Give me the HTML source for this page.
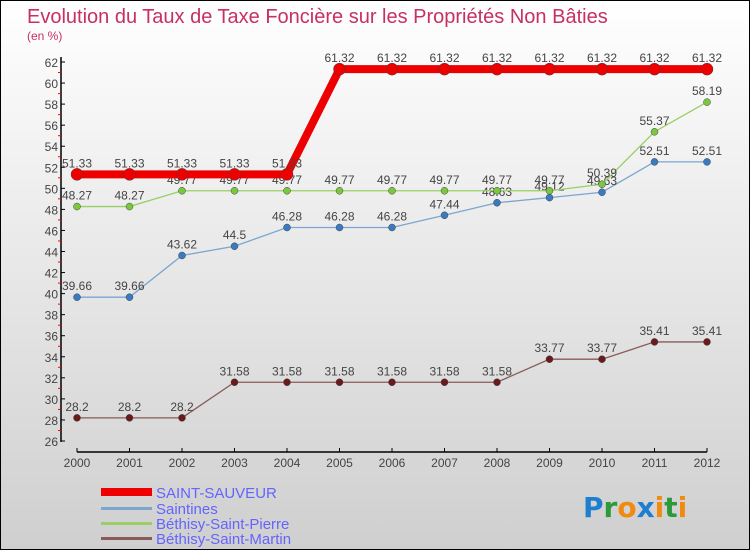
<!DOCTYPE html>
<html><head><meta charset="utf-8"><style>
body{margin:0}
#c{width:748px;height:548px;border:1px solid #000;background:linear-gradient(#fff,#cfcfcf);position:relative;font-family:"Liberation Sans",sans-serif}
</style></head><body>
<div id="c">
<svg id="s" width="748" height="548" style="position:absolute;left:0;top:0">
<text x="26" y="22" font-size="20" fill="#c8305f">Evolution du Taux de Taxe Foncière sur les Propriétés Non Bâties</text>
<text x="26" y="39" font-size="12" fill="#c8305f">(en %)</text>
<g id="ax"></g><g id="ser"></g>
<g font-size="15" fill="#6464ff">
<rect x="100" y="487" width="51" height="8" fill="#e00"/>
<text x="155" y="497">SAINT-SAUVEUR</text>
<rect x="100" y="506" width="51" height="3" fill="#7aa6cf"/>
<text x="155" y="513">Saintines</text>
<rect x="100" y="521" width="51" height="3" fill="#99d066"/>
<text x="155" y="528">Béthisy-Saint-Pierre</text>
<rect x="100" y="536" width="51" height="3" fill="#8a5a5a"/>
<text x="155" y="543">Béthisy-Saint-Martin</text>
</g>
<g font-size="28" font-weight="bold" font-family="'DejaVu Sans',sans-serif">
<text x="582" y="516"><tspan fill="#1e7fd0">P</tspan><tspan fill="#2a9a3a">r</tspan><tspan fill="#f08a10">o</tspan><tspan fill="#1e7fd0">x</tspan><tspan fill="#f08a10">i</tspan><tspan fill="#2a9a3a">t</tspan><tspan fill="#f08a10">i</tspan></text>
</g>
</svg></div>
<script>
const years=[2000,2001,2002,2003,2004,2005,2006,2007,2008,2009,2010,2011,2012];
const sauveur=[51.33,51.33,51.33,51.33,51.33,61.32,61.32,61.32,61.32,61.32,61.32,61.32,61.32];
const saintines=[39.66,39.66,43.62,44.5,46.28,46.28,46.28,47.44,48.63,49.12,49.63,52.51,52.51];
const pierre=[48.27,48.27,49.77,49.77,49.77,49.77,49.77,49.77,49.77,49.77,50.39,55.37,58.19];
const martin=[28.2,28.2,28.2,31.58,31.58,31.58,31.58,31.58,31.58,33.77,33.77,35.41,35.41];
const yTicks=[26,28,30,32,34,36,38,40,42,44,46,48,50,52,54,56,58,60,62];
const NS="http://www.w3.org/2000/svg";
const X=i=>76+i*(706-76)/12, Y=v=>440-(v-26)*(440-61)/36;
function mk(t,a,p){const e=document.createElementNS(NS,t);for(const k in a)e.setAttribute(k,a[k]);if(p)p.appendChild(e);return e;}
const ax=document.getElementById('ax'),ser=document.getElementById('ser');
let yl=mk('line',{x1:60,y1:56,x2:60,y2:441,stroke:'#000','stroke-width':1.5},ax);


let xl=mk('line',{x1:76,y1:451,x2:706,y2:451,stroke:'#000','stroke-width':1.5},ax);


yTicks.forEach(v=>{const y=Y(v);
mk('line',{x1:60,y1:y,x2:64,y2:y,stroke:'#000'},ax);
if(v<62)mk('line',{x1:57,y1:Y(v+1),x2:60,y2:Y(v+1),stroke:'#f00'},ax);
const t=mk('text',{x:57,y:y+5,'font-size':12,fill:'#444','text-anchor':'end'},ax);t.textContent=v;

});
years.forEach((yr,i)=>{const x=X(i);
mk('line',{x1:x,y1:447,x2:x,y2:451,stroke:'#000'},ax);
const t=mk('text',{x:x,y:466,'font-size':12,fill:'#444','text-anchor':'middle'},ax);t.textContent=yr;

});
function series(d,col,dot,w,r,name){
const g=mk('g',{},ser);


mk('polyline',{points:d.map((v,i)=>X(i)+','+Y(v)).join(' '),fill:'none',stroke:col,'stroke-width':w},g);
d.forEach((v,i)=>{const c=mk('circle',{cx:X(i),cy:Y(v),r:r,fill:dot,stroke:'#444','stroke-width':0.5},g);


const t=mk('text',{x:X(i),y:Y(v)-7,'font-size':12,fill:'#444','text-anchor':'middle'},g);t.textContent=v;});}
series(martin,'#8a5a5a','#6a1a1a',1.3,3.5,'series-bethisy-saint-martin');
series(saintines,'#7aa6cf','#3a7ac0',1.3,3.5,'series-saintines');
series(pierre,'#99d066','#7ac840',1.3,3.5,'series-bethisy-saint-pierre');
series(sauveur,'#e00','#e00',8,6,'series-saint-sauveur');
</script></body></html>
